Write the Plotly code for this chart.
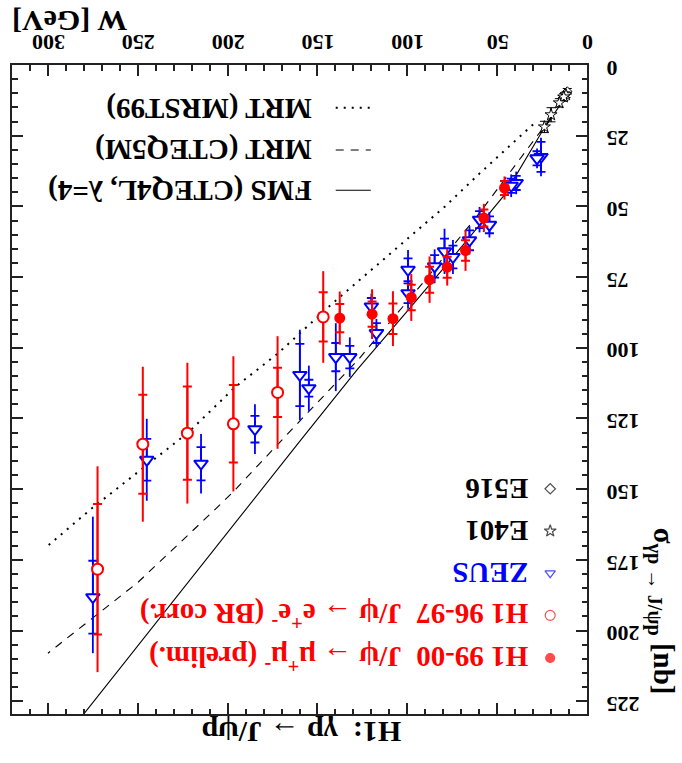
import plotly.graph_objects as go

# ---------------- theory curves: W [GeV] vs sigma [nb] ----------------
fms_w = [10, 25, 46, 74, 100, 128, 160, 187, 218, 250, 280, 300]
fms_sig = [9.5, 23.5, 46.0, 67.5, 87.0, 107.8, 133.2, 154.8, 179.6, 205.2, 229.5, 245.5]

mrt5_w = [20, 40, 60, 90, 127, 160, 197, 209, 250, 300]
mrt5_sig = [18.5, 35.5, 52.5, 76.0, 104.0, 126.0, 151.0, 158.4, 183.0, 208.0]

mrst_w = [30, 60, 79, 110, 142, 172, 196, 222, 250, 276, 300]
mrst_sig = [21.0, 38.5, 50.0, 67.0, 84.5, 102.0, 114.0, 130.0, 144.0, 157.0, 170.0]

# ---------------- measurements ----------------
h1new_w = [45.9, 57.4, 67.6, 77.8, 87.6, 97.8, 108.0, 119.6, 137.6]
h1new_sig = [43.5, 54.1, 65.6, 71.5, 75.9, 82.2, 89.7, 88.1, 89.5]
h1new_stat = [2.5, 3.0, 3.6, 3.7, 4.6, 4.5, 5.4, 4.5, 5.0]
h1new_tot = [4.1, 5.0, 7.2, 6.5, 8.2, 8.3, 9.7, 8.8, 9.4]

h1old_w = [146.8, 172.2, 196.8, 222.4, 247.2, 272.4]
h1old_sig = [89.1, 115.8, 126.9, 130.2, 134.1, 178.3]
h1old_stat = [8.7, 8.7, 13.7, 16.5, 17.5, 23.1]
h1old_tot = [16.2, 19.9, 23.9, 24.9, 27.4, 36.4]

zeus_w = [25.6, 27.8, 39.4, 42.2, 54.3, 59.8, 65.4, 74.6, 79.3, 84.8, 99.6, 99.6,
          117.2, 120.0, 132.0, 139.8, 154.8, 159.8, 184.8, 214.8, 245.0, 275.0]
zeus_sig = [32.5, 33.0, 41.7, 42.7, 56.5, 54.7, 62.0, 67.9, 65.9, 71.2, 72.4, 80.7,
            94.8, 85.4, 103.3, 103.3, 114.3, 109.6, 128.8, 141.0, 139.6, 188.2]
zeus_stat = [5.3, 2.5, 2.5, 2.5, 3.0, 3.0, 3.5, 4.0, 4.5, 4.0, 4.0, 3.5,
             3.5, 3.0, 4.0, 5.0, 3.0, 11.0, 4.7, 5.9, 7.4, 12.9]
zeus_tot_up = [6.8, 3.5, 4.0, 4.0, 4.5, 4.5, 5.0, 6.0, 8.0, 6.0, 7.0, 5.5,
               5.0, 4.5, 7.0, 12.0, 8.0, 16.0, 8.8, 10.5, 14.5, 19.8]
zeus_tot_dn = [6.8, 3.5, 4.0, 4.0, 4.5, 4.5, 5.0, 6.0, 8.0, 6.0, 7.0, 5.5,
               5.0, 4.5, 7.0, 12.0, 8.0, 16.0, 8.8, 10.5, 14.5, 28.5]

e401_w = [11.7, 12.9, 15.4, 20.0, 23.7]
e401_sig = [10.5, 11.3, 13.4, 17.6, 21.9]
e401_err = [1.0, 1.2, 1.5, 2.5, 2.0]

e516_w = [11.0, 13.8]
e516_sig = [9.3, 11.8]
e516_err = [1.0, 1.0]

# ---------------- axis ticks ----------------
FS = "\u2007"   # figure space (digit wide)
QS = "\u2005"   # four-per-em space (half a digit)
w_ticks = [0, 50, 100, 150, 200, 250, 300]
w_ticktext = [FS + "0" + FS, QS + "50" + QS, "100", "150", "200", "250", "300"]
sig_ticks = [0, 25, 50, 75, 100, 125, 150, 175, 200, 225]
sig_ticktext = [FS + FS + "0", FS + "25", FS + "50", FS + "75",
                "100", "125", "150", "175", "200", "225"]

# ---------------- labels ----------------
curve_labels = ["FMS (CTEQ4L, λ=4)", "MRT (CTEQ5M)", "MRT (MRST99)"]
data_labels = ["H1 99-00  J/ψ → μ<sup>+</sup>μ<sup>-</sup> (prelim.)",
               "H1 96-97  J/ψ → e<sup>+</sup>e<sup>-</sup> (BR corr.)",
               "ZEUS", "E401", "E516"]

RED = "#ff0000"
BLUE = "#0000ff"
FONT = "Liberation Serif"

fig = go.Figure()

# theory curves
fig.add_trace(go.Scatter(x=fms_w, y=fms_sig, mode="lines",
                         line=dict(color="black", width=1.1)))
fig.add_trace(go.Scatter(x=mrt5_w, y=mrt5_sig, mode="lines",
                         line=dict(color="black", width=1.1, dash="8px,7px")))
fig.add_trace(go.Scatter(x=mrst_w, y=mrst_sig, mode="lines",
                         line=dict(color="black", width=2, dash="2px,6px")))

def add_points(w, s, stat, tot_up, tot_dn, color, symbol, size, lw, fill, ew):
    # statistical error with end ticks (drawn first, below the markers)
    fig.add_trace(go.Scatter(
        x=w, y=s, mode="markers",
        marker=dict(size=1, color="rgba(0,0,0,0)"),
        error_y=dict(type="data", array=stat, symmetric=True,
                     color=color, thickness=ew, width=4.5)))
    # total error and the markers
    fig.add_trace(go.Scatter(
        x=w, y=s, mode="markers",
        marker=dict(symbol=symbol, size=size, color=fill,
                    line=dict(color=color, width=lw)),
        error_y=dict(type="data", array=tot_up, arrayminus=tot_dn,
                     symmetric=False, color=color, thickness=ew, width=0)))

add_points(e516_w, e516_sig, e516_err, e516_err, e516_err, "black", "diamond", 7, 1, "white", 1)
add_points(e401_w, e401_sig, e401_err, e401_err, e401_err, "black", "star", 9, 1, "white", 1)
add_points(zeus_w, zeus_sig, zeus_stat, zeus_tot_up, zeus_tot_dn, BLUE, "triangle-down", 12, 2, "white", 1.8)
add_points(h1old_w, h1old_sig, h1old_stat, h1old_tot, h1old_tot, RED, "circle", 11, 2, "white", 2)
add_points(h1new_w, h1new_sig, h1new_stat, h1new_tot, h1new_tot, RED, "circle", 11, 0, RED, 2)

# legend symbols on an overlay frame spanning the plot area (0..1 in both)
key_x = [0.936] * 5
key_y = [0.0863, 0.152, 0.217, 0.282, 0.347]
key_sym = ["circle", "circle-open", "triangle-down-open", "star-open", "diamond-open"]
key_col = [RED, RED, BLUE, "black", "black"]
key_size = [9, 10, 9, 9, 8]
fig.add_trace(go.Scatter(
    x=key_x, y=key_y, xaxis="x2", yaxis="y2", mode="markers", cliponaxis=False,
    marker=dict(symbol=key_sym, size=key_size, color=key_col,
                line=dict(color=key_col, width=1.2))))

# legend line samples for the curves
sample_y = [0.807, 0.869, 0.934]
sample_dash = ["solid", "8px,7px", "2px,6px"]
sample_w = [1.1, 1.1, 2]
for yy, dd, ww in zip(sample_y, sample_dash, sample_w):
    fig.add_shape(type="line", xref="paper", yref="paper",
                  x0=0.563, x1=0.624, y0=yy, y1=yy,
                  line=dict(color="black", width=ww, dash=dd))

ann = []
for txt, yy in zip(curve_labels, sample_y):
    ann.append(dict(text=txt, x=0.525, y=yy, xref="paper", yref="paper",
                    xanchor="right", yanchor="middle", showarrow=False, textangle=180,
                    font=dict(family=FONT, size=29, color="black", weight="bold")))

data_colors = [RED, RED, BLUE, "black", "black"]
for txt, yy, cc in zip(data_labels, key_y, data_colors):
    ann.append(dict(text=txt, x=0.901, y=yy, xref="paper", yref="paper",
                    xanchor="right", yanchor="middle", showarrow=False, textangle=180,
                    font=dict(family=FONT, size=29, color=cc, weight="bold")))

# process title, axis titles
ann.append(dict(text="H1:  γp → J/ψp", x=0.681, y=-0.0277, xref="paper", yref="paper",
                xanchor="right", yanchor="middle", showarrow=False, textangle=180,
                font=dict(family=FONT, size=30, color="black", weight="bold")))
ann.append(dict(text="W [GeV]", x=0.2045, y=1.068, xref="paper", yref="paper",
                xanchor="right", yanchor="middle", showarrow=False, textangle=180,
                font=dict(family=FONT, size=30, color="black", weight="bold")))
ann.append(dict(text="σ<sub>γp → J/ψp</sub> [nb]", x=1.13, y=0.158, xref="paper", yref="paper",
                xanchor="center", yanchor="middle", showarrow=False, textangle=90,
                font=dict(family=FONT, size=29, color="black", weight="bold")))

axis_common = dict(
    showline=True, linecolor="#222222", linewidth=2, mirror="allticks",
    ticks="inside", ticklen=11, tickwidth=1.5, tickcolor="#222222",
    showgrid=False, zeroline=False, tickangle=180, tickmode="array",
    tickfont=dict(family=FONT, size=22, color="black", weight="bold"),
)

fig.update_layout(
    width=682, height=763,
    margin=dict(l=10, r=95, t=65, b=49),
    paper_bgcolor="white", plot_bgcolor="white",
    showlegend=False,
    xaxis=dict(range=[320, 0], side="top", tickvals=w_ticks, ticktext=w_ticktext,
               ticklabelshift=-17, ticklabelstandoff=-3,
               minor=dict(dtick=10, tick0=0, ticks="inside", ticklen=5.5,
                          tickcolor="#222222", tickwidth=1.5),
               **axis_common),
    yaxis=dict(range=[229.5, 0], side="right", tickvals=sig_ticks, ticktext=sig_ticktext,
               ticklabelshift=-10, ticklabelstandoff=46,
               minor=dict(dtick=5, tick0=0, ticks="inside", ticklen=5.5,
                          tickcolor="#222222", tickwidth=1.5),
               **axis_common),
    xaxis2=dict(range=[0, 1], overlaying="x", visible=False),
    yaxis2=dict(range=[0, 1], overlaying="y", visible=False),
    annotations=ann,
)

fig.write_html("out.html")
